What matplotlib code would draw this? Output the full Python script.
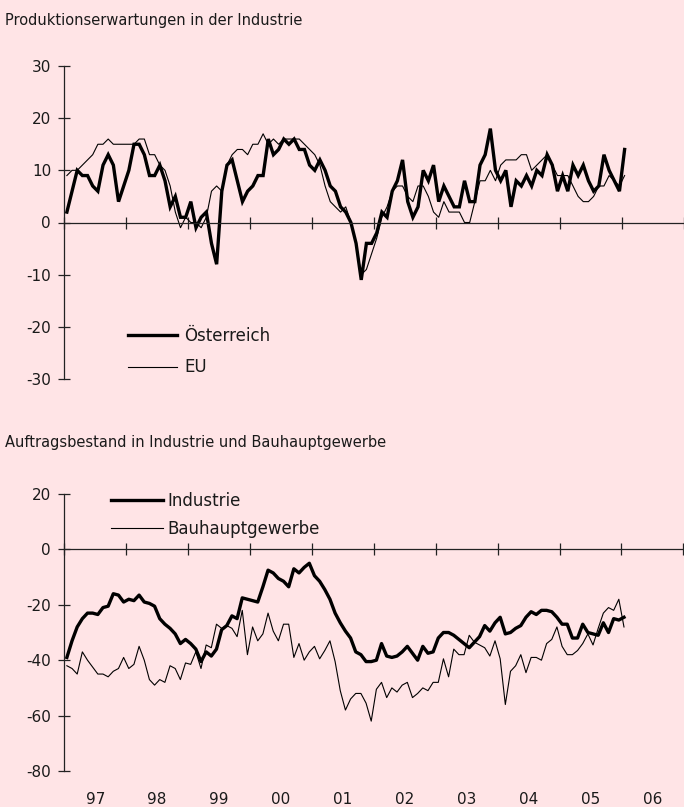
import matplotlib
matplotlib.use("Agg")
import matplotlib.pyplot as plt
import numpy as np

plt.rcParams['font.family'] = ['DejaVu Sans']
plt.rcParams['axes.unicode_minus'] = False

# ---------------- data (monthly, Jan 1997 - Jan 2006) ----------------
start_year = 1997
year_ticks = list(range(1997, 2008))
year_labels = ['97', '98', '99', '00', '01', '02', '03', '04', '05', '06']

oesterreich = [2, 6, 10, 9, 9, 7, 6, 11, 13, 11, 4, 7,
               10, 15, 15, 13, 9, 9, 11, 8, 3, 5, 1, 1,
               4, -1, 1, 2, -4, -8, 6, 11, 12, 8, 4, 6,
               7, 9, 9, 16, 13, 14, 16, 15, 16, 14, 14, 11,
               10, 12, 10, 7, 6, 3, 2, 0, -4, -11, -4, -4,
               -2, 2, 1, 6, 8, 12, 4, 1, 3, 10, 8, 11,
               4, 7, 5, 3, 3, 8, 4, 4, 11, 13, 18, 10,
               8, 10, 3, 8, 7, 9, 7, 10, 9, 13, 11, 6,
               9, 6, 11, 9, 11, 8, 6, 7, 13, 10, 8, 6,
               14]

eu = [9, 10, 10, 11, 12, 13, 15, 15, 16, 15, 15, 15,
      15, 15, 16, 16, 13, 13, 11, 10, 7, 2, -1, 1,
      0, 0, -1, 1, 6, 7, 6, 11, 13, 14, 14, 13,
      15, 15, 17, 15, 16, 15, 16, 16, 16, 16, 15, 14,
      13, 11, 7, 4, 3, 2, 3, 0, -4, -10, -9, -6,
      -3, 1, 3, 6, 7, 7, 5, 4, 7, 7, 5, 2,
      1, 4, 2, 2, 2, 0, 0, 4, 8, 8, 10, 8,
      11, 12, 12, 12, 13, 13, 10, 11, 12, 13, 11, 9,
      9, 9, 7, 5, 4, 4, 5, 7, 7, 9, 8, 7,
      9]

industrie = [-39, -33, -28, -25, -23, -23, -23.5, -21, -20.5, -16, -16.5, -19,
             -18, -18.5, -16.5, -19, -19.5, -20.5, -25, -27, -28.5, -30.5, -34, -32.5,
             -34, -36, -40.5, -37, -38.5, -36, -29, -27.5, -24, -25, -17.5, -18,
             -18.5, -19, -13.5, -7.5, -8.5, -10.5, -11.5, -13.5, -7, -8.5, -6.5, -5,
             -9.5, -11.5, -14.5, -18, -23, -26.5, -29.5, -32, -37, -38, -40.5, -40.5,
             -40, -34, -38.5, -39, -38.5, -37, -35, -37.5, -40, -35, -37.5, -37,
             -32, -30, -30, -31, -32.5, -34, -35.5, -33.5, -31.5, -27.5, -29.5, -26.5,
             -24.5, -30.5, -30, -28.5, -27.5, -24.5, -22.5, -23.5, -22, -22, -22.5, -24.5,
             -27, -27, -32, -32, -27, -30, -30.5, -31, -26.5, -30, -25, -25.5,
             -24.5]

bauhaupt = [-42, -43, -45, -37, -40, -42.5, -45, -45, -46, -44, -43, -39,
            -43, -41.5, -35, -40, -47, -49, -47, -48, -42, -43, -47, -41,
            -41.5, -37, -43, -34.5, -35.5, -27, -28.5, -27.5, -28.5, -31.5, -22, -38,
            -28, -33, -30.5, -23, -29.5, -33, -27, -27, -39, -34, -40, -37,
            -35, -39.5, -36.5, -33, -40.5, -51, -58, -54, -52, -52, -55.5, -62,
            -50.5, -48, -53.5, -50, -51.5, -49, -48, -53.5, -52, -50, -51, -48,
            -48, -39.5, -46, -36, -38, -38, -31, -33.5, -34.5, -35.5, -38.5, -33,
            -39.5, -56, -44, -42, -38, -44.5, -39, -39, -40, -34, -32.5, -28,
            -35, -38, -38, -36.5, -34, -30.5, -34.5, -28.5, -23, -21, -22, -18,
            -28]

title_top = 'Produktionserwartungen in der Industrie'
title_bottom = 'Auftragsbestand in Industrie und Bauhauptgewerbe'

# ---------------- figure ----------------
BG = '#ffe4e6'
TXT = '#1a1a1a'
W, H = 684, 807
fig = plt.figure(figsize=(W / 100, H / 100), dpi=100, facecolor=BG)

months = np.arange(len(oesterreich))
x = start_year + (months + 0.5) / 12.0


def style_axis(ax, yticks):
    ax.set_facecolor(BG)
    for s in ('top', 'right'):
        ax.spines[s].set_visible(False)
    ax.spines['bottom'].set_position(('data', 0))
    for s in ('left', 'bottom'):
        ax.spines[s].set_linewidth(0.9)
        ax.spines[s].set_color('#222222')
    ax.set_yticks(yticks)
    ax.set_xticks(year_ticks)
    ax.tick_params(axis='both', direction='inout', length=9, width=0.9,
                   color='#222222', labelcolor=TXT, labelsize=11)
    ax.tick_params(axis='y', pad=5)
    ax.tick_params(axis='x', labelbottom=False)


# top panel
ax1 = fig.add_axes([64.3 / W, 1 - 379 / H, (W - 64.3) / W, 313 / H])
ax1.plot(x, oesterreich, color='black', lw=2.4, label='Österreich',
         solid_joinstyle='miter')
ax1.plot(x, eu, color='black', lw=0.8, label='EU')
ax1.set_xlim(1997, 1997 + (W - 64.3) / 62.41)
ax1.set_ylim(-30, 30)
style_axis(ax1, [-30, -20, -10, 0, 10, 20, 30])
ax1.legend(loc='center left', bbox_to_anchor=(0.1028, 0.088), frameon=False,
           borderpad=0, borderaxespad=0, handlelength=2.94, handletextpad=0.45,
           labelspacing=0.83, fontsize=12, labelcolor=TXT)

# bottom panel
ax2 = fig.add_axes([64.3 / W, 1 - 771 / H, (683.3 - 64.3) / W, 277 / H])
ax2.plot(x, industrie, color='black', lw=2.4, label='Industrie')
ax2.plot(x, bauhaupt, color='black', lw=0.8, label='Bauhauptgewerbe')
ax2.set_xlim(1997, 2007)
ax2.set_ylim(-80, 20)
style_axis(ax2, [-80, -60, -40, -20, 0, 20])
ax2.legend(loc='center left', bbox_to_anchor=(0.0754, 0.9245), frameon=False,
           borderpad=0, borderaxespad=0, handlelength=3.1, handletextpad=0.3,
           labelspacing=0.6, fontsize=12, labelcolor=TXT)

sec = ax2.secondary_xaxis('bottom')
sec.set_xticks([y + 0.5 for y in year_ticks[:-1]], labels=year_labels)
sec.tick_params(axis='x', length=0, pad=15, labelsize=11, labelcolor=TXT)
sec.spines['bottom'].set_visible(False)

fig.text(5 / W, 1 - 20 / H, title_top, fontsize=10.5, color=TXT,
         ha='left', va='center')
fig.text(5 / W, 1 - 443 / H, title_bottom, fontsize=10.5, color=TXT,
         ha='left', va='center')

fig.savefig('out.png', dpi=100, facecolor=BG)
